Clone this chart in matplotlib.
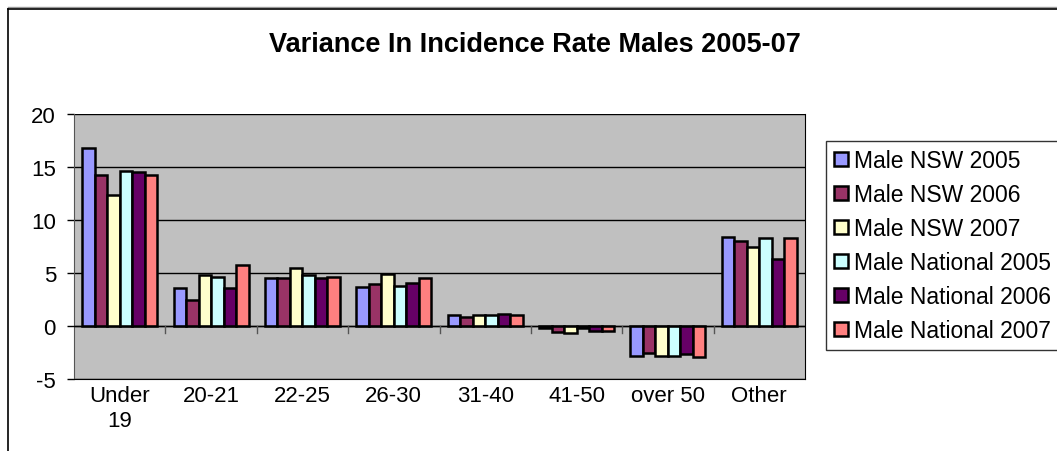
import numpy as np
import matplotlib.pyplot as plt
from matplotlib.lines import Line2D

plt.rcParams['font.family'] = ['Liberation Sans', 'DejaVu Sans']
plt.rcParams['axes.unicode_minus'] = False

categories = ["Under\n19", "20-21", "22-25", "26-30", "31-40", "41-50", "over 50", "Other"]
series_names = ["Male NSW 2005", "Male NSW 2006", "Male NSW 2007",
                "Male National 2005", "Male National 2006", "Male National 2007"]

nsw_2005 = [16.8, 3.6, 4.5, 3.7, 1.0, -0.15, -2.8, 8.35]
nsw_2006 = [14.2, 2.5, 4.5, 4.0, 0.85, -0.55, -2.5, 8.0]
nsw_2007 = [12.4, 4.8, 5.5, 4.9, 1.0, -0.7, -2.8, 7.5]
nat_2005 = [14.6, 4.6, 4.8, 3.8, 1.0, -0.2, -2.8, 8.3]
nat_2006 = [14.5, 3.6, 4.5, 4.05, 1.15, -0.5, -2.65, 6.3]
nat_2007 = [14.2, 5.8, 4.65, 4.5, 1.05, -0.45, -2.95, 8.3]

colors = ["#9999FF", "#993366", "#FFFFCC", "#CCFFFF", "#660066", "#FF8080"]

W, H = 1057, 452
fig = plt.figure(figsize=(W / 100, H / 100), dpi=100)
fig.patch.set_facecolor("white")

# spreadsheet chart frame (top and left edges only are visible)
fig.lines.append(Line2D([8 / W, 1.0], [1 - 8 / H, 1 - 8 / H], transform=fig.transFigure,
                        color="#999999", linewidth=1.0))
fig.lines.append(Line2D([8 / W, 1.0], [1 - 9.5 / H, 1 - 9.5 / H], transform=fig.transFigure,
                        color="black", linewidth=1.2))
fig.lines.append(Line2D([8 / W, 8 / W], [1 - 9.5 / H, 0], transform=fig.transFigure,
                        color="black", linewidth=1.2))

left, right, top, bottom = 74, 805, 115, 380
ax = fig.add_axes([left / W, 1 - bottom / H, (right - left) / W, (bottom - top) / H])
ax.set_facecolor("#C0C0C0")

all_series = [nsw_2005, nsw_2006, nsw_2007, nat_2005, nat_2006, nat_2007]
x = np.arange(len(categories))
bw = 0.137
for i, (vals, name, col) in enumerate(zip(all_series, series_names, colors)):
    ax.bar(x + (i - 2.5) * bw, vals, width=bw, color=col, edgecolor="black",
           linewidth=1.8, label=name, zorder=3)

ax.set_xlim(-0.5, len(categories) - 0.5)
ax.set_ylim(-5, 20)
ax.set_yticks([-5, 0, 5, 10, 15, 20])
ax.yaxis.grid(True, color="black", linewidth=1.0, zorder=1)
ax.axhline(0, color="black", linewidth=1.0, zorder=4)

ax.set_xticks(x)
ax.set_xticklabels(categories, linespacing=1.25)
ax.tick_params(axis="x", which="major", length=0, pad=4, labelsize=16)
ax.tick_params(axis="y", length=5, width=1.0, labelsize=16, pad=8)
ax.spines["top"].set_visible(False)
ax.spines["left"].set_color("#555555")
ax.spines["right"].set_color("black")
ax.spines["bottom"].set_color("black")

# category separators hanging below the zero line
for xm in np.arange(0.5, len(categories) - 0.5, 1):
    ax.plot([xm, xm], [0, -0.62], color="#555555", linewidth=1.0, zorder=4)

fig.text(535 / W, 1 - 45 / H, "Variance In Incidence Rate Males 2005-07",
         ha="center", va="center", fontsize=19.5, fontweight="bold")

leg = fig.legend(loc="upper left", bbox_to_anchor=(826 / W, 1 - 142 / H),
                 frameon=True, fancybox=False, edgecolor="black", fontsize=16.5,
                 handlelength=0.6, handleheight=0.6, handletextpad=0.25,
                 labelspacing=0.48, borderpad=0.35, borderaxespad=0)
leg.get_frame().set_linewidth(1.0)

fig.savefig("out.png", dpi=100)
